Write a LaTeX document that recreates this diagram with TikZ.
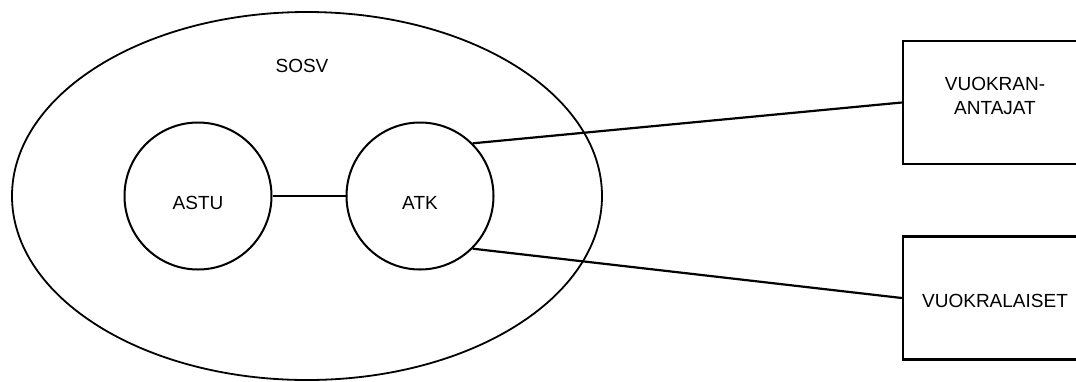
\documentclass[tikz,border=0pt]{standalone}
\usepackage{fontspec}
\setmainfont{Liberation Sans}
\usetikzlibrary{positioning,shapes.geometric}

\begin{document}
\begin{tikzpicture}[
    x=1pt, y=-1pt,
    font=\fontsize{19}{24}\selectfont,
    org/.style={draw, ellipse, line width=1.8pt, minimum width=590pt, minimum height=368pt},
    unit/.style={draw, circle, line width=2pt, minimum size=147pt, inner sep=0pt,
                 text height=27pt, text depth=0pt},
    party/.style={draw, line width=2.4pt, minimum width=184pt, minimum height=123pt, align=center},
    link/.style={line width=2.2pt}
]
    \useasboundingbox (0,0) rectangle (1076,381);
    \node[org] (sosv) at (307,196) {};
    \node (sosvname) at (302,66) {SOSV};
    \node[unit] (astu) at (198,196) {ASTU};
    \node[unit, right=73pt of astu] (atk) {ATK};
    \node[party, text depth=13pt] (landlords) at (995,102.5) {VUOKRAN-\\ANTAJAT};
    \node[party, text height=19pt, text depth=0pt] (tenants) at (995,298) {VUOKRALAISET};

    \draw[link] (astu) -- (atk);
    \draw[link] (atk.north east) -- (landlords.west);
    \draw[link] (atk.south east) -- (tenants.west);
\end{tikzpicture}
\end{document}
